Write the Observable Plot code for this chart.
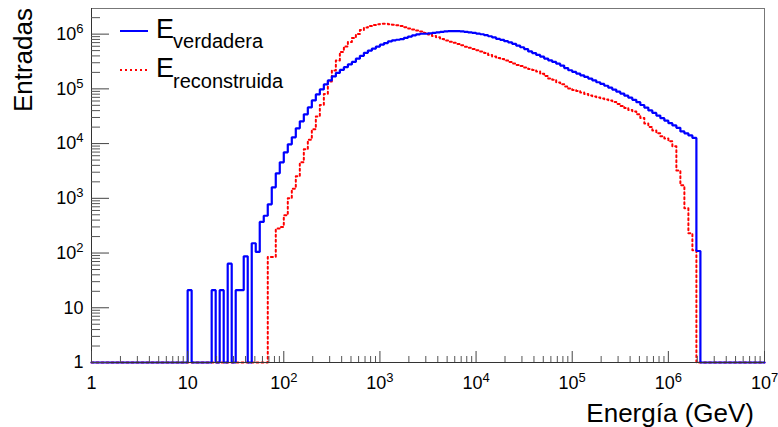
<!DOCTYPE html>
<html><head><meta charset="utf-8">
<script src="https://cdn.jsdelivr.net/npm/d3@7"></script>
<script src="https://cdn.jsdelivr.net/npm/@observablehq/plot@0.6"></script>
<style>
html,body{margin:0;padding:0;background:#fff;}
#chart{width:778px;height:427px;overflow:hidden;}
</style></head><body><div id="chart"></div>
<script>
// Histogram binning: log-uniform bins over 7 decades (1 .. 1e7 GeV)
const binsPerDecade = 24;
const xDecades = 7;

// E_verdadera counts, bins starting at index blueFirstBin
const blueFirstBin = 24;
const blueCounts = [
  21, 0, 0, 0, 0, 0, 21, 0, 21, 0, 64, 0, 21, 21, 87, 0,
  151, 105, 370, 480, 777, 1590, 2860, 4540, 6920, 9680, 13000, 19000,
  25500, 34200, 45800, 61500, 79200, 97700, 120500, 142600, 168700, 195400,
  221800, 249500, 279400, 310400, 356600, 401000, 455000, 501000, 545000, 593000,
  642000, 687000, 735000, 770000, 789000, 809000, 855000, 903000, 946000, 986000,
  1016000, 1016000, 1029000, 1051000, 1074000, 1101000, 1125000, 1134000, 1134000, 1134000,
  1125000, 1101000, 1074000, 1055000, 1025000, 995000, 958000, 915000, 869000, 816000,
  786000, 745000, 708000, 665000, 619000, 576000, 534000, 483000, 450000, 417000,
  388000, 358000, 332000, 310000, 289000, 266000, 240000, 219000, 204000, 190000,
  177000, 165000, 154000, 143000, 132000, 123000, 114000, 105000, 97000, 89000,
  82000, 75000, 69000, 63000, 57000, 50700, 45500, 40400, 36400, 32500,
  29100, 26200, 23600, 21500, 19400, 16700, 15400, 14100, 12700, 109
];

// E_reconstruida counts, bins starting at index redFirstBin
const redFirstBin = 44;
const redCounts = [
  85, 85, 280, 299, 489, 1000, 1490, 2520, 4540, 7840, 11700, 18200,
  31400, 50900, 80900, 137000, 217000, 331000, 473000, 596000, 720000, 851000,
  1007000, 1192000, 1324000, 1410000, 1471000, 1514000, 1546000, 1546000, 1514000, 1483000,
  1452000, 1410000, 1336000, 1271000, 1217000, 1167000, 1119000, 1051000, 986000, 926000,
  874000, 813000, 767000, 726000, 693000, 659000, 624000, 591000, 564000, 536000,
  508000, 483000, 453000, 417000, 391000, 367000, 352000, 331000, 310000, 291000,
  274000, 262000, 246000, 231000, 222000, 208000, 188000, 172000, 155000, 146000,
  131000, 121000, 111000, 102000, 95700, 91800, 86100, 80900, 75900, 72800,
  69800, 66900, 64200, 61500, 57800, 53100, 48800, 44900, 41300, 38700,
  34200, 29500, 23400, 20200, 17400, 15400, 13600, 12400, 11000, 8900,
  3240, 1730, 656, 230, 112
];

const xMajorTicks = [1, 10, 100, 1e3, 1e4, 1e5, 1e6, 1e7];
const xTickLabels = ["1", "10", "10^2", "10^3", "10^4", "10^5", "10^6", "10^7"];
const yMajorTicks = [1, 10, 100, 1e3, 1e4, 1e5, 1e6];
const yTickLabels = ["1", "10", "10^2", "10^3", "10^4", "10^5", "10^6"];
const yMax = 2.94e6;
const seriesSymbol = "E";
const seriesSubscripts = ["verdadera", "reconstruida"];
const seriesColors = ["#0000ff", "#ff0000"];
const xTitle = "Energía (GeV)";
const yTitle = "Entradas";

// Build step outlines from the bin counts (empty bins sit on the frame floor)
function histSteps(first, counts) {
  const nb = binsPerDecade * xDecades;
  const pts = [];
  for (let k = 0; k < nb; k++) {
    const i = k - first;
    const v = (i >= 0 && i < counts.length) ? counts[i] : 0;
    const y = Math.max(v, 1);
    pts.push({x: Math.pow(10, k / binsPerDecade), y});
    pts.push({x: Math.pow(10, (k + 1) / binsPerDecade), y});
  }
  return pts;
}
const blueSteps = histSteps(blueFirstBin, blueCounts);
const redSteps = histSteps(redFirstBin, redCounts);

// minor ticks 2..9 in each decade
const xMinor = [];
for (const m of xMajorTicks.slice(0, -1)) for (let j = 2; j <= 9; j++) xMinor.push(m * j);
const yMinor = [];
for (const m of yMajorTicks) for (let j = 2; j <= 9; j++) if (m * j <= yMax) yMinor.push(m * j);

const W = 778, H = 427, mL = 91, mR = 14, mT = 8, mB = 65;
const fw = W - mL - mR, fh = H - mT - mB;
const font = "'Liberation Sans', Arial, Helvetica, sans-serif";

const plot = Plot.plot({
  width: W, height: H,
  marginLeft: mL, marginRight: mR, marginTop: mT, marginBottom: mB,
  x: {type: "log", domain: [1, 1e7]},
  y: {type: "log", domain: [1, yMax]},
  style: {fontFamily: font, background: "white", color: "black"},
  marks: [
    Plot.frame({stroke: "#777", strokeWidth: 1}),
    Plot.line(redSteps, {x: "x", y: "y", stroke: seriesColors[1], strokeWidth: 2, strokeDasharray: "2,3", curve: "linear"}),
    Plot.line(blueSteps, {x: "x", y: "y", stroke: seriesColors[0], strokeWidth: 2.2, curve: "linear", strokeLinejoin: "miter"}),
    Plot.ruleX([1], {stroke: "#333"}),
    Plot.ruleY([1], {stroke: "#333"}),
    Plot.tickX(xMajorTicks, {x: d => d, insetTop: fh - 11, stroke: "#444"}),
    Plot.tickX(xMinor, {x: d => d, insetTop: fh - 6, stroke: "#555"}),
    Plot.tickY(yMajorTicks, {y: d => d, insetRight: fw - 18, stroke: "#444"}),
    Plot.tickY(yMinor, {y: d => d, insetRight: fw - 9, stroke: "#555"}),
    Plot.axisX({ticks: xMajorTicks, tickSize: 0, tickPadding: 14, fontSize: 18, label: null,
      tickFormat: d => xTickLabels[xMajorTicks.indexOf(d)]}),
    Plot.axisY({ticks: yMajorTicks, tickSize: 0, tickPadding: 8, fontSize: 18, label: null,
      tickFormat: d => yTickLabels[yMajorTicks.indexOf(d)]})
  ]
});
document.getElementById("chart").appendChild(plot);

const svg = d3.select(plot);
// turn "10^n" labels into 10 with a superscript
svg.selectAll("text").each(function() {
  const t = this.textContent;
  const m = /^10\^(\d+)$/.exec(t);
  if (m) {
    const sel = d3.select(this);
    sel.text("10");
    sel.append("tspan").attr("dy", "-7").attr("font-size", 13).text(m[1]);
  }
});

// axis titles
svg.append("text")
  .attr("transform", `translate(32,${mT}) rotate(-90)`)
  .attr("text-anchor", "end").attr("font-family", font).attr("font-size", 26)
  .text(yTitle);
svg.append("text")
  .attr("x", 754).attr("y", 422)
  .attr("text-anchor", "end").attr("font-family", font).attr("font-size", 26)
  .text(xTitle);

// legend
const leg = svg.append("g").attr("font-family", font).attr("text-anchor", "start");
const legRows = [{y: 31, base: 38, sub: 9.5, dash: null}, {y: 70, base: 77, sub: 11, dash: "2,3"}];
legRows.forEach((r, i) => {
  leg.append("line").attr("x1", 120).attr("x2", 148).attr("y1", r.y).attr("y2", r.y)
    .attr("stroke", seriesColors[i]).attr("stroke-width", 2)
    .attr("stroke-dasharray", r.dash);
  const t = leg.append("text").attr("x", 156).attr("y", r.base).attr("font-size", 27)
    .attr("text-anchor", "start").text(seriesSymbol);
  t.append("tspan").attr("dx", -1).attr("dy", r.sub).attr("font-size", 20).text(seriesSubscripts[i]);
});
</script>
</body></html>
